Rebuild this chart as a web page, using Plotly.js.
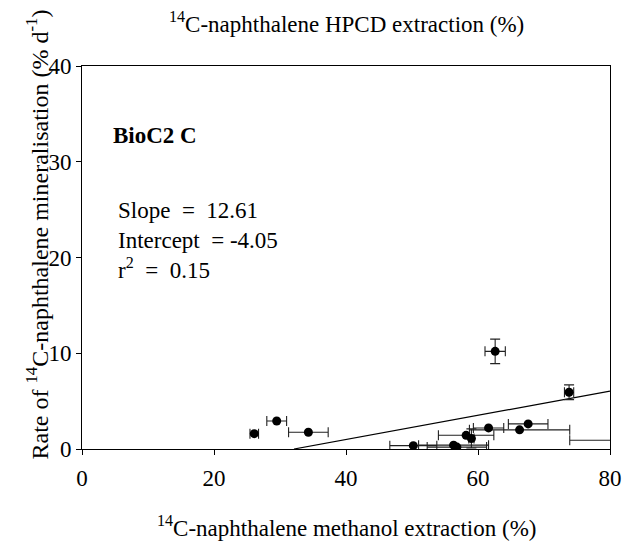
<!DOCTYPE html>
<html>
<head>
<meta charset="utf-8">
<script src="https://cdn.plot.ly/plotly-3.0.1.min.js"></script>
<style>html,body{margin:0;padding:0;background:#fff;}#chart{width:624px;height:544px;}</style>
</head>
<body>
<div id="chart"></div>
<script>
// 14C-naphthalene methanol extraction (%)
const methanolX = [26.1, 29.5, 34.3, 62.6, 73.8, 50.2, 56.3, 56.8, 58.2, 59.0, 61.6, 66.3, 67.6, 84.0];
// Rate of 14C-naphthalene mineralisation (% d-1)
const rateY     = [1.6, 2.93, 1.75, 10.2, 5.93, 0.35, 0.4, 0.2, 1.43, 1.1, 2.2, 2.0, 2.62, 0.91];
const methanolErr = [0.65, 1.5, 3.0, 1.54, 0.7, 3.56, 5.3, 4.5, 4.2, 0.4, 2.3, 7.6, 3.0, 10.1];
const rateErr     = [NaN, NaN, NaN, 1.28, 0.77, NaN, NaN, NaN, NaN, 1.0, NaN, NaN, NaN, NaN];
const xTicks = [0, 20, 40, 60, 80];
const yTicks = [0, 10, 20, 30, 40];
const slope = 12.61;
const intercept = -4.05;
const r2 = 0.15;
const label = 'BioC2 C';

const FONT = 'Liberation Serif, Times New Roman, serif';
const FS = 23;
const xStart = -intercept / slope * 100;
const xEnd = 80;
const lineX = [xStart, xEnd];
const lineY = lineX.map(v => slope * v / 100 + intercept);

const traces = [
  {
    x: lineX, y: lineY, mode: 'lines', type: 'scatter',
    line: {color: '#000', width: 1.2}, hoverinfo: 'skip', showlegend: false
  },
  {
    x: methanolX, y: rateY, mode: 'markers', type: 'scatter',
    marker: {color: '#000', size: 9},
    error_x: {type: 'data', array: methanolErr, visible: true, color: '#222', thickness: 1.1, width: 5},
    error_y: {type: 'data', array: rateErr, visible: true, color: '#222', thickness: 1.1, width: 5},
    showlegend: false
  }
];

const nb = '\u00A0';
const layout = {
  width: 624, height: 544,
  margin: {l: 82, r: 14, t: 66, b: 95},
  paper_bgcolor: '#fff', plot_bgcolor: '#fff',
  font: {family: FONT, size: FS, color: '#000'},
  showlegend: false,
  xaxis: {
    range: [0, 80], tickvals: xTicks, ticktext: xTicks.map(String),
    showline: true, mirror: true, linecolor: '#000', linewidth: 1,
    ticks: 'outside', ticklen: 5, tickwidth: 1, tickcolor: '#000',
    showgrid: false, zeroline: false, ticklabelstandoff: 3,
    tickfont: {family: FONT, size: FS, color: '#000'}
  },
  yaxis: {
    range: [0, 40], tickvals: yTicks, ticktext: yTicks.map(String),
    showline: true, mirror: true, linecolor: '#000', linewidth: 1,
    ticks: 'outside', ticklen: 5, tickwidth: 1, tickcolor: '#000',
    showgrid: false, zeroline: false,
    tickfont: {family: FONT, size: FS, color: '#000'}
  },
  annotations: [
    {text: '<sup>14</sup>C-naphthalene HPCD extraction (%)', xref: 'paper', yref: 'paper',
     x: 0.5, y: 1, yshift: 44, xanchor: 'center', yanchor: 'middle', showarrow: false,
     font: {family: FONT, size: FS, color: '#000'}},
    {text: '<sup>14</sup>C-naphthalene methanol extraction (%)', xref: 'paper', yref: 'paper',
     x: 0.5, y: 0, yshift: -77, xanchor: 'center', yanchor: 'middle', showarrow: false,
     font: {family: FONT, size: FS, color: '#000'}},
    {text: 'Rate of <sup>14</sup>C-naphthalene mineralisation (% d<sup>-1</sup>)', xref: 'paper', yref: 'paper',
     x: 0, xshift: -45, y: 0.56, xanchor: 'center', yanchor: 'middle', textangle: -90, showarrow: false,
     font: {family: FONT, size: 24, color: '#000'}},
    {text: '<b>' + label + '</b>', xref: 'x', yref: 'y', x: 4.4, y: 32.7,
     xanchor: 'left', yanchor: 'middle', showarrow: false,
     font: {family: FONT, size: FS, color: '#000'}},
    {text: 'Slope' + nb + nb + '=' + nb + nb + slope.toFixed(2), xref: 'x', yref: 'y', x: 5.1, y: 24.9,
     xanchor: 'left', yanchor: 'middle', showarrow: false,
     font: {family: FONT, size: FS, color: '#000'}},
    {text: 'Intercept' + nb + nb + '= ' + intercept.toFixed(2), xref: 'x', yref: 'y', x: 5.1, y: 21.8,
     xanchor: 'left', yanchor: 'middle', showarrow: false,
     font: {family: FONT, size: FS, color: '#000'}},
    {text: 'r<sup>2</sup>' + nb + nb + '=' + nb + nb + r2.toFixed(2), xref: 'x', yref: 'y', x: 5.1, y: 18.9,
     xanchor: 'left', yanchor: 'middle', showarrow: false,
     font: {family: FONT, size: FS, color: '#000'}}
  ]
};

Plotly.newPlot('chart', traces, layout, {displayModeBar: false, staticPlot: true});
</script>
</body>
</html>
